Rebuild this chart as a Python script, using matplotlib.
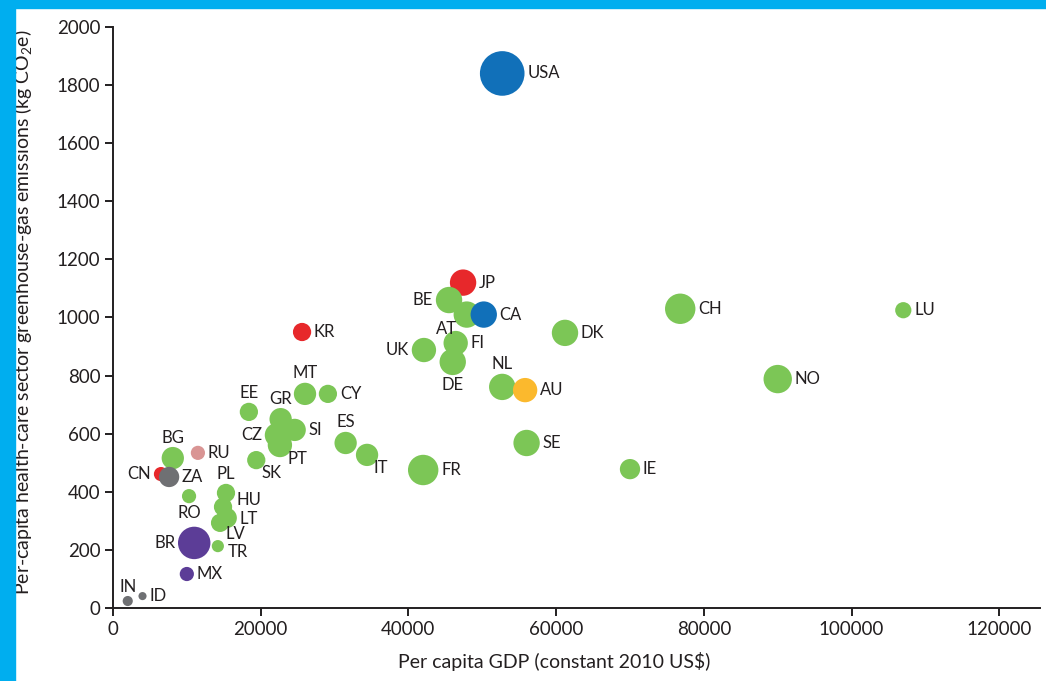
import matplotlib
matplotlib.use("Agg")
import matplotlib.pyplot as plt
from matplotlib.patches import Rectangle

# country codes, GDP per capita (constant 2010 US$), health-care emissions (kg CO2e per capita)
countries = ["USA", "JP", "BE", "AT", "CA", "UK", "FI", "DE", "NL", "AU", "DK",
             "CH", "LU", "NO", "IE", "SE", "FR", "ES", "IT", "KR", "MT", "CY",
             "GR", "SI", "CZ", "PT", "EE", "SK", "BG", "RU", "CN", "ZA", "RO",
             "PL", "HU", "LT", "LV", "TR", "BR", "MX", "IN", "ID"]
gdp = [52700, 47400, 45500, 47900, 50200, 42100, 46400, 46000, 52700, 55800, 61200,
       76800, 107000, 90000, 70000, 56000, 42000, 31500, 34400, 25600, 26000, 29100,
       22700, 24600, 22200, 22600, 18400, 19400, 8100, 11500, 6500, 7600, 10300,
       15300, 14900, 15400, 14500, 14200, 11000, 10000, 2000, 4000]
emissions = [1840, 1120, 1060, 1010, 1010, 888, 912, 847, 761, 750, 947,
             1030, 1025, 788, 478, 568, 475, 568, 527, 950, 737, 737,
             650, 613, 595, 561, 675, 509, 516, 534, 461, 451, 385,
             396, 348, 310, 293, 213, 224, 117, 24, 41]
# bubble radius as drawn (relative size)
bubble = [22, 13, 13, 13, 13, 12, 12, 13, 13, 12, 13,
          15, 8, 14, 10, 13, 15, 11, 11, 9, 11, 9,
          11, 11, 12, 12, 9, 9, 11, 7, 7, 10, 7,
          9, 9, 10, 9, 6, 16, 7, 5, 4]
group = ["na", "asia", "eu", "eu", "na", "eu", "eu", "eu", "eu", "oc", "eu",
         "eu", "eu", "eu", "eu", "eu", "eu", "eu", "eu", "asia", "eu", "eu",
         "eu", "eu", "eu", "eu", "eu", "eu", "eu", "ru", "asia", "other", "eu",
         "eu", "eu", "eu", "eu", "eu", "latam", "latam", "other", "other"]

colors = {"na": "#1170b9", "asia": "#e7282b", "eu": "#7cc656", "oc": "#fbb92d",
          "ru": "#d99594", "other": "#6f7073", "latam": "#5c3d97"}

# label placement around each bubble
R, L, A, B = "r", "l", "a", "b"
place = {"USA": R, "JP": R, "BE": L, "AT": "bl", "CA": R, "UK": L, "FI": R, "DE": B,
         "NL": A, "AU": R, "DK": R, "CH": R, "LU": R, "NO": R, "IE": R, "SE": R,
         "FR": R, "ES": A, "IT": "br", "KR": R, "MT": A, "CY": R, "GR": A, "SI": R,
         "CZ": L, "PT": "br", "EE": A, "SK": "br", "BG": A, "RU": R, "CN": L,
         "ZA": R, "RO": B, "PL": A, "HU": R, "LT": R, "LV": "br", "TR": R,
         "BR": L, "MX": R, "IN": A, "ID": R}
# small extra shifts (points) where labels crowd
nudge = {"HU": (1, 5), "TR": (1, -4), "LT": (0, -1), "LV": (0, 1)}

plt.rcParams['font.family'] = ['Lato', 'DejaVu Sans']
plt.rcParams['mathtext.fontset'] = 'custom'
plt.rcParams['mathtext.rm'] = 'Lato'
plt.rcParams['mathtext.it'] = 'Lato:italic'

ink = "#231f20"

fig = plt.figure(figsize=(10.46, 6.81), dpi=100)
fig.patches.append(Rectangle((0, 0), 15 / 1046, 1, transform=fig.transFigure,
                             color="#00aeef", zorder=0))
fig.patches.append(Rectangle((0, 1 - 8 / 681), 1, 8 / 681, transform=fig.transFigure,
                             color="#00aeef", zorder=0))

ax = fig.add_axes([0.108, 0.1072, 0.8862, 0.8532])
ax.set_xlim(0, 125500)
ax.set_ylim(0, 2000)

for c, x, y, r, g in zip(countries, gdp, emissions, bubble, group):
    ax.scatter(x, y, s=(r * 0.73 * 2) ** 2, color=colors[g], edgecolors="none",
               zorder=3, clip_on=False)

for c, x, y, r in zip(countries, gdp, emissions, bubble):
    p = place[c]
    rp = r * 0.73
    if p == R:
        off, ha, va = (rp + 2, 0), "left", "center"
    elif p == L:
        off, ha, va = (-rp - 2, 0), "right", "center"
    elif p == A:
        off, ha, va = (0, rp + 1), "center", "bottom"
    elif p == B:
        off, ha, va = (0, -rp - 1), "center", "top"
    elif p == "bl":
        off, ha, va = (-rp * 0.7, -rp * 0.45), "right", "top"
    else:  # below right
        off, ha, va = (rp * 0.6, -rp * 0.5), "left", "top"
    dx, dy = nudge.get(c, (0, 0))
    ax.annotate(c, (x, y), xytext=(off[0] + dx, off[1] + dy), textcoords="offset points",
                ha=ha, va=va, fontsize=12, color=ink, zorder=4)

for s in ["top", "right"]:
    ax.spines[s].set_visible(False)
for s in ["left", "bottom"]:
    ax.spines[s].set_linewidth(1.4)
    ax.spines[s].set_color(ink)

ax.set_yticks(range(0, 2001, 200))
ax.set_xticks(range(0, 120001, 20000))
ax.set_xticklabels(["0", "20000", "40000", "60000", "80000", "100000", "120000"])
ax.tick_params(axis="both", direction="out", length=6, width=1.4, color=ink,
               labelsize=13.5, labelcolor=ink)
ax.tick_params(axis="y", pad=3)

ax.set_xlabel(r"Per capita GDP (constant 2010 US\$)", fontsize=14, color=ink)
ax.xaxis.set_label_coords(0.476, -0.075)
ax.set_ylabel(r"Per-capita health-care sector greenhouse-gas emissions (kg CO$_2$e)",
              fontsize=14, color=ink)
ax.yaxis.set_label_coords(-0.085, 0.51)

fig.savefig("out.png", dpi=100)
